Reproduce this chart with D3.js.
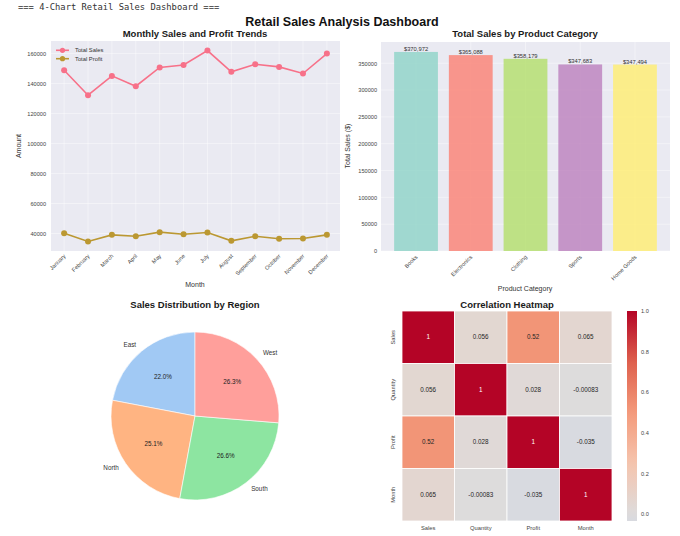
<!DOCTYPE html>
<html>
<head>
<meta charset="utf-8">
<script src="https://cdn.jsdelivr.net/npm/d3@7"></script>
<style>
  body { margin: 0; background: #fff; }
  svg { display: block; font-family: "Liberation Sans", Arial, sans-serif; }
</style>
</head>
<body>
<script>
const width = 680;
const height = 536;

// data
const months = ["January", "February", "March", "April", "May", "June", "July",
    "August", "September", "October", "November", "December"];
const totalSales = [148900, 132200, 145100, 138200, 150700, 152400, 162000,
    147800, 152900, 151100, 146700, 160000];
const totalProfit = [40200, 34700, 39100, 38200, 40900, 39500, 40700,
    35100, 38200, 36500, 36700, 39100];

const categories = ["Books", "Electronics", "Clothing", "Sports", "Home Goods"];
const categorySales = [370972, 365088, 358179, 347683, 347494];
const categoryColours = ["#8dd3c7", "#fb8072", "#b3de69", "#bc80bd", "#ffed6f"];

const regions = ["East", "North", "South", "West"];
const regionShare = [22.0, 25.1, 26.6, 26.3];
const regionColours = ["#a1c9f4", "#ffb482", "#8de5a1", "#ff9f9b"];

const corrVars = ["Sales", "Quantity", "Profit", "Month"];
const corrMatrix = [
    [1, 0.056, 0.52, 0.065],
    [0.056, 1, 0.028, -0.00083],
    [0.52, 0.028, 1, -0.035],
    [0.065, -0.00083, -0.035, 1],
];
const corrLabels = [
    ["1", "0.056", "0.52", "0.065"],
    ["0.056", "1", "0.028", "-0.00083"],
    ["0.52", "0.028", "1", "-0.035"],
    ["0.065", "-0.00083", "-0.035", "1"],
];

const bg = "#eaeaf2";
const tickColour = "#444";

const svg = d3.select("body").append("svg")
    .attr("width", width)
    .attr("height", height);

// notebook print line + suptitle
svg.append("text")
    .attr("x", 18).attr("y", 10)
    .style("font-family", "'DejaVu Sans Mono', monospace")
    .style("font-size", "8.8px")
    .attr("fill", "#333")
    .text("=== 4-Chart Retail Sales Dashboard ===");

svg.append("text")
    .attr("x", 342).attr("y", 26)
    .attr("text-anchor", "middle")
    .style("font-size", "12.5px").style("font-weight", "bold")
    .attr("fill", "#111")
    .text("Retail Sales Analysis Dashboard");

function title(x, y, txt) {
    svg.append("text")
        .attr("x", x).attr("y", y)
        .attr("text-anchor", "middle")
        .style("font-size", "9.5px").style("font-weight", "bold")
        .attr("fill", "#1a1a1a")
        .text(txt);
}

function axisLabel(x, y, txt, rotate) {
    svg.append("text")
        .attr("transform", `translate(${x},${y})` + (rotate ? " rotate(-90)" : ""))
        .attr("text-anchor", "middle")
        .style("font-size", "7px")
        .attr("fill", "#333")
        .text(txt);
}

function styleAxis(g) {
    g.select(".domain").remove();
    g.selectAll(".tick line").remove();
    g.selectAll(".tick text")
        .attr("fill", tickColour)
        .style("font-size", "5.6px")
        .style("font-family", "'Liberation Sans', Arial, sans-serif");
}

/////////////////////////////
//// Line chart /////////////
/////////////////////////////
{
    const L = 51, R = 340, T = 41, B = 251;
    const x = d3.scaleLinear().domain([-0.55, months.length - 1 + 0.55]).range([L, R]);
    const all = totalSales.concat(totalProfit);
    const [lo, hi] = d3.extent(all);
    const pad = (hi - lo) * 0.05;
    const y = d3.scaleLinear().domain([lo - pad, hi + pad]).range([B, T]);
    const yTicks = d3.range(40000, 160001, 20000);

    svg.append("rect").attr("x", L).attr("y", T)
        .attr("width", R - L).attr("height", B - T).attr("fill", bg);

    const grid = svg.append("g").attr("stroke", "#fff").attr("stroke-opacity", 0.6).attr("stroke-width", 0.7);
    grid.selectAll(".gx").data(months).enter().append("line")
        .attr("x1", (d, i) => x(i)).attr("x2", (d, i) => x(i))
        .attr("y1", T).attr("y2", B);
    grid.selectAll(".gy").data(yTicks).enter().append("line")
        .attr("x1", L).attr("x2", R)
        .attr("y1", (d) => y(d)).attr("y2", (d) => y(d));

    const series = [
        { name: "Total Sales", values: totalSales, colour: "#f77189" },
        { name: "Total Profit", values: totalProfit, colour: "#bb9832" },
    ];
    const line = d3.line().x((d, i) => x(i)).y((d) => y(d));

    series.forEach((s) => {
        svg.append("path")
            .attr("d", line(s.values))
            .attr("fill", "none")
            .attr("stroke", s.colour)
            .attr("stroke-width", 1.6);
        svg.selectAll(null).data(s.values).enter().append("circle")
            .attr("cx", (d, i) => x(i)).attr("cy", (d) => y(d))
            .attr("r", 3).attr("fill", s.colour);
    });

    // legend
    series.forEach((s, i) => {
        const ly = 50.3 + i * 8.4;
        svg.append("line").attr("x1", 56).attr("x2", 69).attr("y1", ly).attr("y2", ly)
            .attr("stroke", s.colour).attr("stroke-width", 1.6);
        svg.append("circle").attr("cx", 62.5).attr("cy", ly).attr("r", 2.6).attr("fill", s.colour);
        svg.append("text").attr("x", 75).attr("y", ly + 2)
            .style("font-size", "5.8px").attr("fill", "#333").text(s.name);
    });

    svg.append("g")
        .attr("transform", `translate(${L - 4},0)`)
        .call(d3.axisLeft(y).tickValues(yTicks).tickSize(0).tickPadding(1).tickFormat(d3.format("d")))
        .call(styleAxis);

    const xa = svg.append("g")
        .attr("transform", `translate(0,${B + 4})`)
        .call(d3.axisBottom(x).tickValues(d3.range(months.length)).tickSize(0)
            .tickFormat((i) => months[i]))
        .call(styleAxis);
    xa.selectAll(".tick text")
        .attr("text-anchor", "end")
        .attr("dy", 0).attr("y", 2)
        .attr("transform", "rotate(-45)");

    title(195, 37.3, "Monthly Sales and Profit Trends");
    axisLabel(195, 287, "Month");
    axisLabel(21, 146, "Amount", true);
}

/////////////////////////////
//// Bar chart //////////////
/////////////////////////////
{
    const L = 381, R = 670, T = 42, B = 251;
    const x = d3.scaleLinear().domain([-0.64, categories.length - 1 + 0.64]).range([L, R]);
    const y = d3.scaleLinear().domain([0, d3.max(categorySales) * 1.05]).range([B, T]);
    const yTicks = d3.range(0, 350001, 50000);

    svg.append("rect").attr("x", L).attr("y", T)
        .attr("width", R - L).attr("height", B - T).attr("fill", bg);

    const grid = svg.append("g").attr("stroke", "#fff").attr("stroke-opacity", 0.6).attr("stroke-width", 0.7);
    grid.selectAll(".gx").data(categories).enter().append("line")
        .attr("x1", (d, i) => x(i)).attr("x2", (d, i) => x(i))
        .attr("y1", T).attr("y2", B);
    grid.selectAll(".gy").data(yTicks).enter().append("line")
        .attr("x1", L).attr("x2", R)
        .attr("y1", (d) => y(d)).attr("y2", (d) => y(d));

    const bw = x(0.4) - x(0);
    svg.selectAll(".bar").data(categorySales).enter().append("rect")
        .attr("class", "bar")
        .attr("x", (d, i) => x(i) - bw)
        .attr("width", bw * 2)
        .attr("y", (d) => y(d))
        .attr("height", (d) => B - y(d))
        .attr("fill", (d, i) => categoryColours[i])
        .attr("fill-opacity", 0.8);

    svg.selectAll(".barLabel").data(categorySales).enter().append("text")
        .attr("x", (d, i) => x(i)).attr("y", (d) => y(d) - 1)
        .attr("text-anchor", "middle")
        .style("font-size", "5.8px").attr("fill", "#333")
        .text((d) => "$" + d3.format(",")(d));

    svg.append("g")
        .attr("transform", `translate(${L - 3},0)`)
        .call(d3.axisLeft(y).tickValues(yTicks).tickSize(0).tickPadding(1).tickFormat(d3.format("d")))
        .call(styleAxis);

    const xa = svg.append("g")
        .attr("transform", `translate(0,${B + 5})`)
        .call(d3.axisBottom(x).tickValues(d3.range(categories.length)).tickSize(0)
            .tickFormat((i) => categories[i]))
        .call(styleAxis);
    xa.selectAll(".tick text")
        .attr("text-anchor", "end")
        .attr("dy", 0).attr("y", 2)
        .attr("transform", "rotate(-45)");

    title(525, 37.3, "Total Sales by Product Category");
    axisLabel(525, 291, "Product Category");
    axisLabel(350, 146, "Total Sales ($)", true);
}

/////////////////////////////
//// Pie chart //////////////
/////////////////////////////
{
    const cx = 195, cy = 416, r = 84;
    const g = svg.append("g").attr("transform", `translate(${cx},${cy})`);
    // matplotlib: start at 12 o'clock, counter-clockwise
    const pie = d3.pie().sort(null).startAngle(0).endAngle(-2 * Math.PI);
    const arcs = pie(regionShare);
    const arc = d3.arc().innerRadius(0).outerRadius(r);

    g.selectAll("path").data(arcs).enter().append("path")
        .attr("d", arc)
        .attr("fill", (d, i) => regionColours[i])
        .attr("stroke", "#fff").attr("stroke-width", 0.6);

    const total = d3.sum(regionShare);
    arcs.forEach((d, i) => {
        const a = (d.startAngle + d.endAngle) / 2;
        const sx = Math.sin(a), sy = -Math.cos(a);
        g.append("text")
            .attr("x", sx * r * 1.1).attr("y", sy * r * 1.1 + 2)
            .attr("text-anchor", sx > 0 ? "start" : "end")
            .style("font-size", "6.3px").attr("fill", "#333")
            .text(regions[i]);
        g.append("text")
            .attr("x", sx * r * 0.6).attr("y", sy * r * 0.6 + 2)
            .attr("text-anchor", "middle")
            .style("font-size", "6.3px").attr("fill", "#222")
            .text(d3.format(".1f")(d.value / total * 100) + "%");
    });

    title(195, 308, "Sales Distribution by Region");
}

/////////////////////////////
//// Heatmap ////////////////
/////////////////////////////
{
    const L = 402, R = 612, T = 311, B = 521;
    const x = d3.scaleBand().domain(corrVars).range([L, R]);
    const y = d3.scaleBand().domain(corrVars).range([T, B]);

    // coolwarm, centred on 0 like seaborn's center=0
    const coolwarm = d3.scaleLinear()
        .domain(d3.range(0, 1.0001, 0.125))
        .range(["#3b4cc0", "#6282ea", "#8db0fe", "#b8d0f9", "#dddcdc",
            "#f5c4ad", "#f49a7b", "#de604d", "#b40426"])
        .interpolate(d3.interpolateRgb);
    const colour = (v) => coolwarm((v + 1) / 2);

    const cells = [];
    corrMatrix.forEach((row, i) => row.forEach((v, j) => cells.push({ i, j, v })));

    svg.selectAll(".cell").data(cells).enter().append("rect")
        .attr("x", (d) => x(corrVars[d.j]))
        .attr("y", (d) => y(corrVars[d.i]))
        .attr("width", x.bandwidth()).attr("height", y.bandwidth())
        .attr("fill", (d) => colour(d.v))
        .attr("stroke", "#fff").attr("stroke-width", 0.8);

    svg.selectAll(".annot").data(cells).enter().append("text")
        .attr("x", (d) => x(corrVars[d.j]) + x.bandwidth() / 2)
        .attr("y", (d) => y(corrVars[d.i]) + y.bandwidth() / 2 + 2)
        .attr("text-anchor", "middle")
        .style("font-size", "6.3px")
        .attr("fill", (d) => (d.v > 0.7 ? "#fff" : "#262626"))
        .text((d) => corrLabels[d.i][d.j]);

    svg.selectAll(".ylab").data(corrVars).enter().append("text")
        .attr("transform", (d) => `translate(${L - 7},${y(d) + y.bandwidth() / 2}) rotate(-90)`)
        .attr("text-anchor", "middle")
        .style("font-size", "5.8px").attr("fill", tickColour)
        .text((d) => d);
    svg.selectAll(".xlab").data(corrVars).enter().append("text")
        .attr("x", (d) => x(d) + x.bandwidth() / 2).attr("y", B + 9)
        .attr("text-anchor", "middle")
        .style("font-size", "5.8px").attr("fill", tickColour)
        .text((d) => d);

    // colour bar
    const vmin = d3.min(cells, (d) => d.v), vmax = 1;
    const cb = d3.scaleLinear().domain([vmin, vmax]).range([B, T]);
    const grad = svg.append("defs").append("linearGradient")
        .attr("id", "cbar").attr("x1", 0).attr("x2", 0).attr("y1", 1).attr("y2", 0);
    d3.range(0, 1.0001, 0.05).forEach((t) => {
        grad.append("stop").attr("offset", t)
            .attr("stop-color", colour(vmin + t * (vmax - vmin)));
    });
    svg.append("rect").attr("x", 627).attr("y", T)
        .attr("width", 10).attr("height", B - T)
        .attr("fill", "url(#cbar)");
    svg.append("g")
        .attr("transform", "translate(639,0)")
        .call(d3.axisRight(cb).tickValues(d3.range(0, 1.0001, 0.2)).tickSize(0).tickPadding(2)
            .tickFormat(d3.format(".1f")))
        .call(styleAxis);

    title(507, 308, "Correlation Heatmap");
}
</script>
</body>
</html>
